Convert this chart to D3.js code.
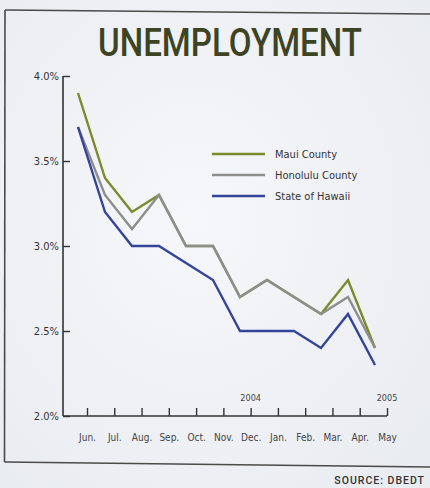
<!DOCTYPE html>
<html>
<head>
<meta charset="utf-8">
<script src="https://cdn.jsdelivr.net/npm/d3@7"></script>
<style>
  html, body { margin: 0; padding: 0; background: #eef0f4; }
  svg { display: block; }
  .narrow { font-family: "Liberation Sans Narrow", "DejaVu Sans Condensed", "Noto Sans", sans-serif; }
</style>
</head>
<body>
<script>
// Monthly unemployment rates, June through May
const months = ["Jun.", "Jul.", "Aug.", "Sep.", "Oct.", "Nov.", "Dec.", "Jan.", "Feb.", "Mar.", "Apr.", "May"];
const mauiCounty     = [3.9, 3.4, 3.2, 3.3, 3.0, 3.0, 2.7, 2.8, 2.7, 2.6, 2.8, 2.4];
const honoluluCounty = [3.7, 3.3, 3.1, 3.3, 3.0, 3.0, 2.7, 2.8, 2.7, 2.6, 2.7, 2.4];
const stateOfHawaii  = [3.7, 3.2, 3.0, 3.0, 2.9, 2.8, 2.5, 2.5, 2.5, 2.4, 2.6, 2.3];
const seriesNames = ["Maui County", "Honolulu County", "State of Hawaii"];
const seriesColors = ["#7a8a2c", "#8e8e8c", "#34449a"];
const yTicks = [2.0, 2.5, 3.0, 3.5, 4.0];
const yearLabels = [{ month: "Dec.", text: "2004" }, { month: "May", text: "2005" }];

const W = 430, H = 488;
const svg = d3.select("body").append("svg").attr("width", W).attr("height", H);

// paper background with a lighter centre
const defs = svg.append("defs");
const grad = defs.append("radialGradient").attr("id", "paper").attr("cx", "45%").attr("cy", "45%").attr("r", "70%");
grad.append("stop").attr("offset", "0%").attr("stop-color", "#f6f7fa");
grad.append("stop").attr("offset", "100%").attr("stop-color", "#e9ecf1");
svg.append("rect").attr("width", W).attr("height", H).attr("fill", "url(#paper)");

// box frame (top, left, bottom rules)
const frame = svg.append("g").attr("stroke", "#4a4a4a").attr("fill", "none");
frame.append("line").attr("x1", 5).attr("y1", 10).attr("x2", W).attr("y2", 14).attr("stroke-width", 1.6);
frame.append("line").attr("x1", 5).attr("y1", 10).attr("x2", 4.5).attr("y2", 462).attr("stroke-width", 1.6);
frame.append("line").attr("x1", 4.5).attr("y1", 462).attr("x2", W).attr("y2", 467).attr("stroke-width", 1.6);

// title
svg.append("text")
  .attr("x", 230).attr("y", 56)
  .attr("text-anchor", "middle")
  .attr("font-family", "Roboto, 'Open Sans', sans-serif")
  .attr("font-weight", 500)
  .attr("font-size", 38)
  .attr("fill", "#3d4424")
  .attr("textLength", 264)
  .attr("lengthAdjust", "spacingAndGlyphs")
  .text("UNEMPLOYMENT");

// scales
const axisX = 63;
const y = d3.scaleLinear().domain([2.0, 4.0]).range([416, 76]);
const xTick = d3.scalePoint().domain(months).range([87, 387]);
const xData = d3.scalePoint().domain(months).range([78, 375]);

// y axis
const yAxis = svg.append("g")
  .attr("class", "narrow")
  .attr("transform", `translate(${axisX},0)`)
  .call(d3.axisLeft(y).tickValues(yTicks).tickSize(-7).tickPadding(4)
        .tickFormat(d => d3.format(".1f")(d) + "%"));
yAxis.select(".domain").remove();
yAxis.selectAll(".tick line").attr("stroke", "#333").attr("stroke-width", 1.4);
yAxis.selectAll(".tick text").attr("font-size", 11).attr("fill", "#333")
  .attr("font-family", "'Liberation Sans Narrow', 'DejaVu Sans Condensed', sans-serif");
svg.append("line")
  .attr("x1", axisX).attr("x2", axisX)
  .attr("y1", y(4.0)).attr("y2", y(2.0))
  .attr("stroke", "#333").attr("stroke-width", 1.6);

// x axis
const xAxis = svg.append("g")
  .attr("class", "narrow")
  .attr("transform", `translate(0,${y(2.0)})`)
  .call(d3.axisBottom(xTick).tickSize(-8).tickPadding(18).tickSizeOuter(0));
xAxis.select(".domain").remove();
xAxis.selectAll(".tick line").attr("stroke", "#333").attr("stroke-width", 1.4);
xAxis.selectAll(".tick text").attr("font-size", 10).attr("fill", "#444")
  .attr("font-family", "'Liberation Sans Narrow', 'DejaVu Sans Condensed', sans-serif");
svg.append("line")
  .attr("x1", axisX).attr("x2", xTick(months[months.length - 1]))
  .attr("y1", y(2.0)).attr("y2", y(2.0))
  .attr("stroke", "#333").attr("stroke-width", 1.6);

// year markers above the axis
svg.selectAll("text.year").data(yearLabels).join("text")
  .attr("class", "year narrow")
  .attr("x", d => xTick(d.month))
  .attr("y", y(2.0) - 15)
  .attr("text-anchor", "middle")
  .attr("font-size", 9)
  .attr("fill", "#444")
  .text(d => d.text);

// series lines
const series = [mauiCounty, honoluluCounty, stateOfHawaii];
const line = d3.line().x((d, i) => xData(months[i])).y(d => y(d));
svg.append("g").selectAll("path").data(series).join("path")
  .attr("d", d => line(d))
  .attr("fill", "none")
  .attr("stroke", (d, i) => seriesColors[i])
  .attr("stroke-width", 2.4)
  .attr("stroke-linejoin", "miter");

// legend
const legend = svg.append("g").attr("transform", "translate(212,154)");
const item = legend.selectAll("g").data(seriesNames).join("g")
  .attr("transform", (d, i) => `translate(0,${i * 21})`);
item.append("line").attr("x1", 0).attr("x2", 53).attr("y1", 0).attr("y2", 0)
  .attr("stroke", (d, i) => seriesColors[i]).attr("stroke-width", 2.6);
item.append("text").attr("class", "narrow")
  .attr("x", 63).attr("y", 4)
  .attr("font-size", 11)
  .attr("fill", "#333")
  .text(d => d);

// source note
svg.append("text")
  .attr("x", 425).attr("y", 484)
  .attr("text-anchor", "end")
  .attr("font-family", "Roboto, 'DejaVu Sans', sans-serif")
  .attr("font-weight", 500)
  .attr("font-size", 10.5)
  .attr("letter-spacing", 1)
  .attr("fill", "#333")
  .text("SOURCE: DBEDT");
</script>
</body>
</html>
